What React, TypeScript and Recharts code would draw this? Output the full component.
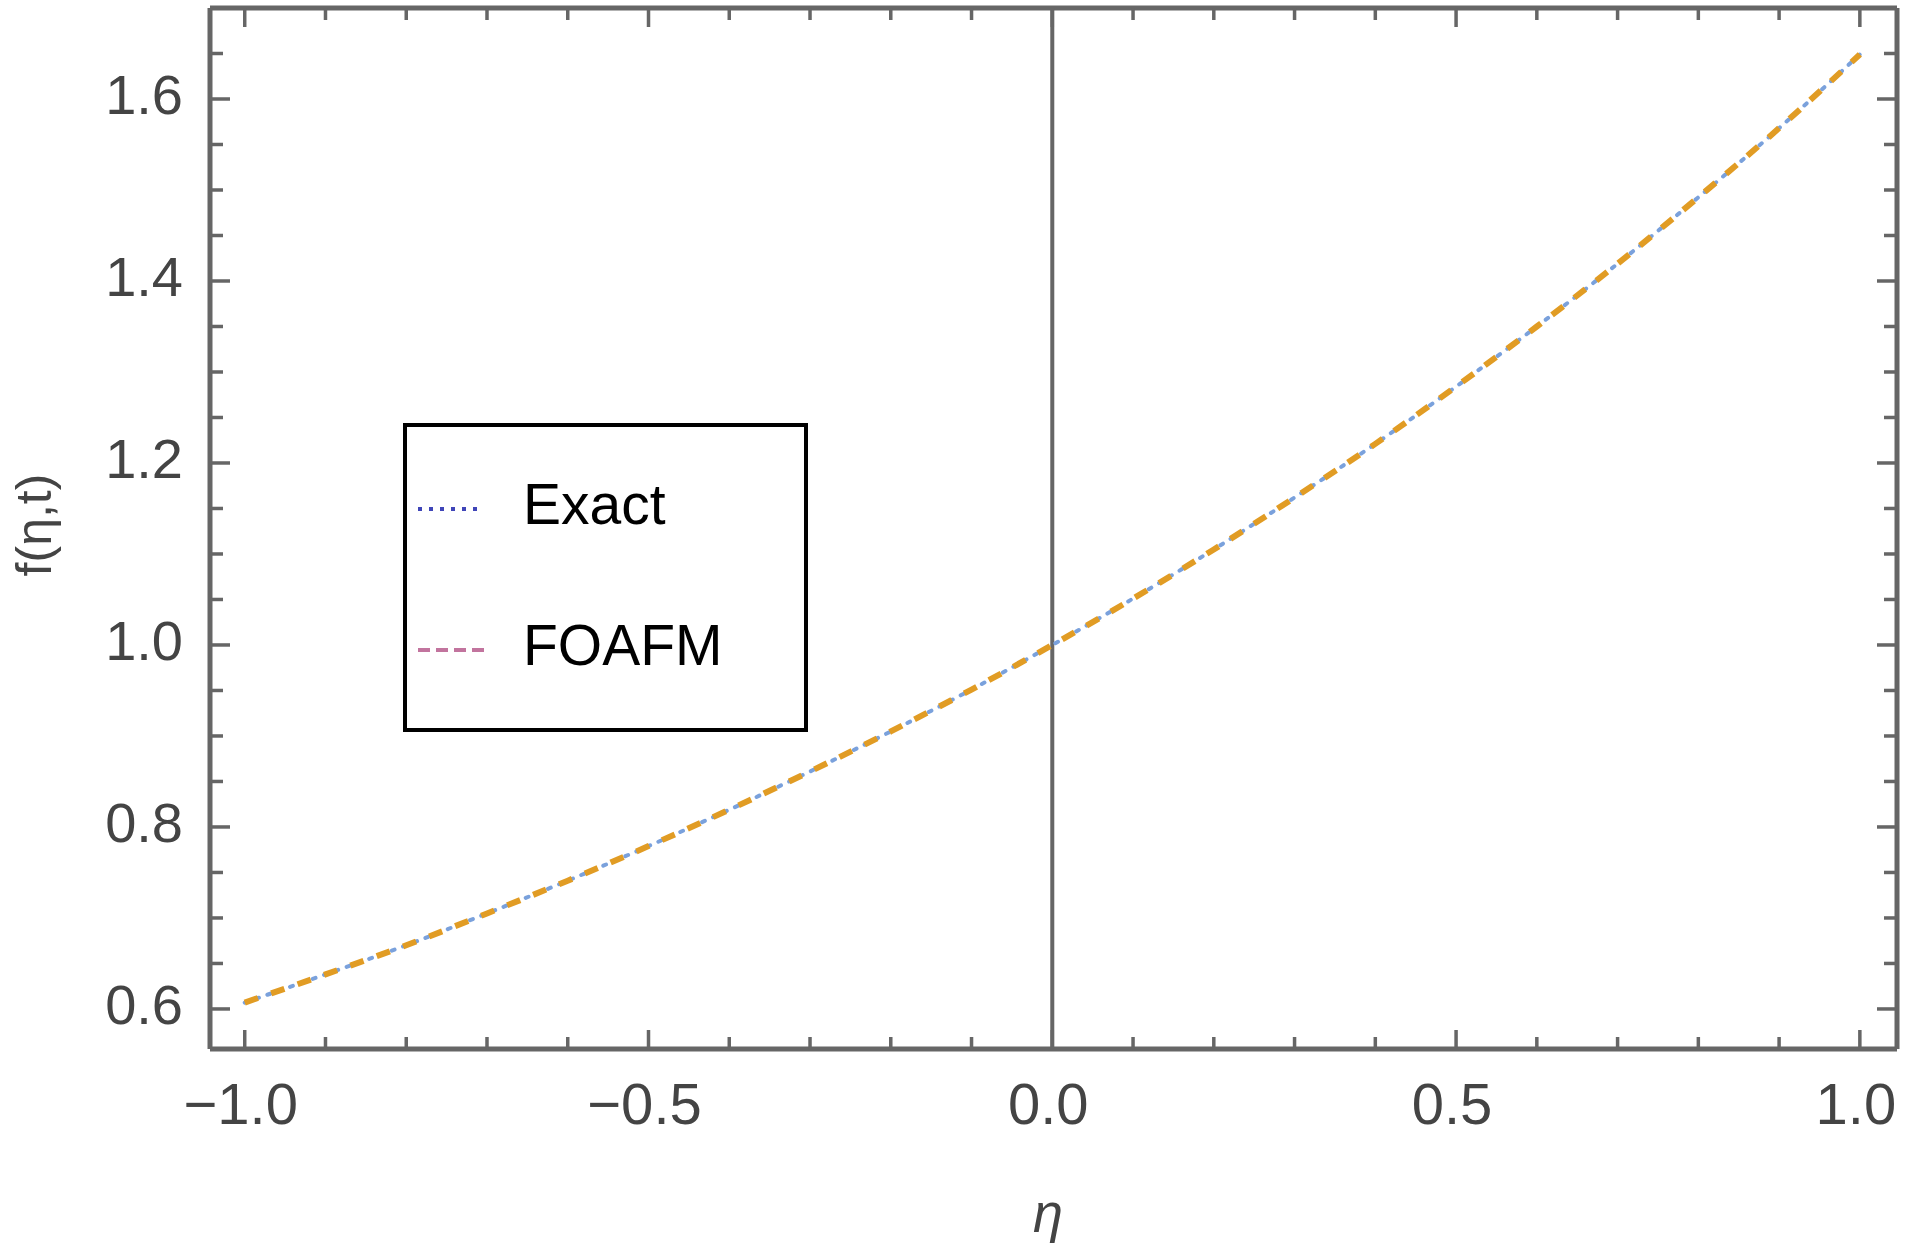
import React from 'react';
import { LineChart, Line, XAxis, YAxis, ReferenceLine, Legend } from 'recharts';

const etaValues = [-1.0, -0.9, -0.8, -0.7, -0.6, -0.5, -0.4, -0.3, -0.2, -0.1, 0.0, 0.1, 0.2, 0.3, 0.4, 0.5, 0.6, 0.7, 0.8, 0.9, 1.0];
const exactValues = [0.607, 0.638, 0.670, 0.705, 0.741, 0.779, 0.819, 0.861, 0.905, 0.951, 1.0, 1.051, 1.105, 1.162, 1.221, 1.284, 1.350, 1.419, 1.492, 1.568, 1.649];
const foafmValues = [0.607, 0.638, 0.670, 0.705, 0.741, 0.779, 0.819, 0.861, 0.905, 0.951, 1.0, 1.051, 1.105, 1.162, 1.221, 1.284, 1.350, 1.419, 1.492, 1.568, 1.649];

const xTicks = [-1.0, -0.9, -0.8, -0.7, -0.6, -0.5, -0.4, -0.3, -0.2, -0.1, 0.0, 0.1, 0.2, 0.3, 0.4, 0.5, 0.6, 0.7, 0.8, 0.9, 1.0];
const yTicks = [0.6, 0.65, 0.7, 0.75, 0.8, 0.85, 0.9, 0.95, 1.0, 1.05, 1.1, 1.15, 1.2, 1.25, 1.3, 1.35, 1.4, 1.45, 1.5, 1.55, 1.6, 1.65];
const xDomain = [-1.043, 1.046];
const yDomain = [0.556, 1.7];

const seriesNames = ['Exact', 'FOAFM'];

const data = etaValues.map((eta, i) => ({ eta, exact: exactValues[i], foafm: foafmValues[i] }));

const FONT = '"Liberation Sans", Arial, sans-serif';
const AXIS = '#666666';
const LABEL = '#444444';

const isMajorX = (v: number) => Math.abs(v * 2 - Math.round(v * 2)) < 1e-6;
const isMajorY = (v: number) => Math.abs(v * 5 - Math.round(v * 5)) < 1e-6;
const fmt = (v: number) => (v < 0 ? '\u2212' : '') + Math.abs(v).toFixed(1);

const BottomTick = (p: any) => {
  const v = p.payload.value;
  const major = isMajorX(v);
  return (
    <g>
      <line x1={p.x} x2={p.x} y1={p.y} y2={p.y - (major ? 19 : 12)} stroke={AXIS} strokeWidth={3.5} />
      {major && (
        <text x={p.x - 4} y={p.y + 75} textAnchor="middle" fontFamily={FONT} fontSize={58} fill={LABEL}>
          {fmt(v)}
        </text>
      )}
    </g>
  );
};

const TopTick = (p: any) => {
  const v = p.payload.value;
  const major = isMajorX(v);
  return <line x1={p.x} x2={p.x} y1={p.y} y2={p.y + (major ? 19 : 12)} stroke={AXIS} strokeWidth={3.5} />;
};

const LeftTick = (p: any) => {
  const v = p.payload.value;
  const major = isMajorY(v);
  return (
    <g>
      <line x1={p.x} x2={p.x + (major ? 20 : 13)} y1={p.y} y2={p.y} stroke={AXIS} strokeWidth={3.5} />
      {major && (
        <text x={p.x - 27} y={p.y + 15} textAnchor="end" fontFamily={FONT} fontSize={56} fill={LABEL}>
          {v.toFixed(1)}
        </text>
      )}
    </g>
  );
};

const RightTick = (p: any) => {
  const v = p.payload.value;
  const major = isMajorY(v);
  return <line x1={p.x} x2={p.x - (major ? 20 : 13)} y1={p.y} y2={p.y} stroke={AXIS} strokeWidth={3.5} />;
};

const legendStyles: Record<string, { color: string; dash: string; width: number; x2: number }> = {
  Exact: { color: '#3f45b8', dash: '4 7', width: 4, x2: 76 },
  FOAFM: { color: '#c2749e', dash: '12 6', width: 4, x2: 84 },
};

const LegendBox = () => (
  <svg width={406} height={310} style={{ display: 'block' }}>
    <rect x={2} y={2} width={401} height={305} fill="#ffffff" stroke="#000000" strokeWidth={4} />
    {seriesNames.map((name, i) => {
      const s = legendStyles[name];
      const cy = i === 0 ? 86 : 227;
      return (
        <g key={name}>
          <line x1={15} x2={s.x2} y1={cy} y2={cy} stroke={s.color} strokeWidth={s.width} strokeDasharray={s.dash} />
          <text x={120} y={cy + 15} fontFamily={FONT} fontSize={57} fill="#000000">
            {name}
          </text>
        </g>
      );
    })}
  </svg>
);

export default function App() {
  return (
    <div style={{ position: 'absolute', left: 0, top: 0, background: '#ffffff' }}>
      <LineChart width={1908} height={1247} data={data} margin={{ top: 7, right: 10, bottom: 0, left: 0 }}>
        <XAxis
          xAxisId="b"
          type="number"
          dataKey="eta"
          domain={xDomain}
          allowDataOverflow
          ticks={xTicks}
          interval={0}
          height={198}
          axisLine={{ stroke: AXIS, strokeWidth: 5 }}
          tickLine={false}
          tickSize={0}
          tickMargin={0}
          tick={(p: any) => <BottomTick {...p} />}
          label={(props: any) => (
            <text x={1048} y={1232} textAnchor="middle" fontFamily={FONT} fontStyle="italic" fontSize={54} fill={LABEL}>
              η
            </text>
          )}
        />
        <XAxis
          xAxisId="t"
          orientation="top"
          type="number"
          dataKey="eta"
          domain={xDomain}
          allowDataOverflow
          ticks={xTicks}
          interval={0}
          height={1}
          axisLine={{ stroke: AXIS, strokeWidth: 5 }}
          tickLine={false}
          tickSize={0}
          tickMargin={0}
          tick={(p: any) => <TopTick {...p} />}
        />
        <YAxis
          yAxisId="l"
          type="number"
          domain={yDomain}
          allowDataOverflow
          ticks={yTicks}
          interval={0}
          width={210}
          axisLine={{ stroke: AXIS, strokeWidth: 5 }}
          tickLine={false}
          tickSize={0}
          tickMargin={0}
          tick={(p: any) => <LeftTick {...p} />}
          label={(props: any) => (
            <text
              x={34}
              y={525}
              transform="rotate(-90 34 525)"
              textAnchor="middle"
              dominantBaseline="central"
              fontFamily={FONT}
              fontSize={50}
              fill={LABEL}
            >
              f(η,t)
            </text>
          )}
        />
        <YAxis
          yAxisId="r"
          orientation="right"
          type="number"
          domain={yDomain}
          allowDataOverflow
          ticks={yTicks}
          interval={0}
          width={1}
          axisLine={{ stroke: AXIS, strokeWidth: 5 }}
          tickLine={false}
          tickSize={0}
          tickMargin={0}
          tick={(p: any) => <RightTick {...p} />}
        />
        <ReferenceLine xAxisId="b" yAxisId="l" x={0} stroke={AXIS} strokeWidth={4} />
        <Line
          xAxisId="b"
          yAxisId="l"
          type="monotone"
          dataKey="exact"
          name={seriesNames[0]}
          stroke="#7aa1dc"
          strokeWidth={4}
          strokeDasharray="3 9"
          strokeLinecap="round"
          dot={false}
          isAnimationActive={false}
        />
        <Line
          xAxisId="b"
          yAxisId="l"
          type="monotone"
          dataKey="foafm"
          name={seriesNames[1]}
          stroke="#e19c24"
          strokeWidth={6}
          strokeDasharray="14 14"
          dot={false}
          isAnimationActive={false}
        />
        <Legend
          layout="horizontal"
          verticalAlign="middle"
          align="center"
          content={() => <LegendBox />}
          wrapperStyle={{ left: 403, top: 423, width: 406, height: 310 }}
        />
      </LineChart>
    </div>
  );
}
